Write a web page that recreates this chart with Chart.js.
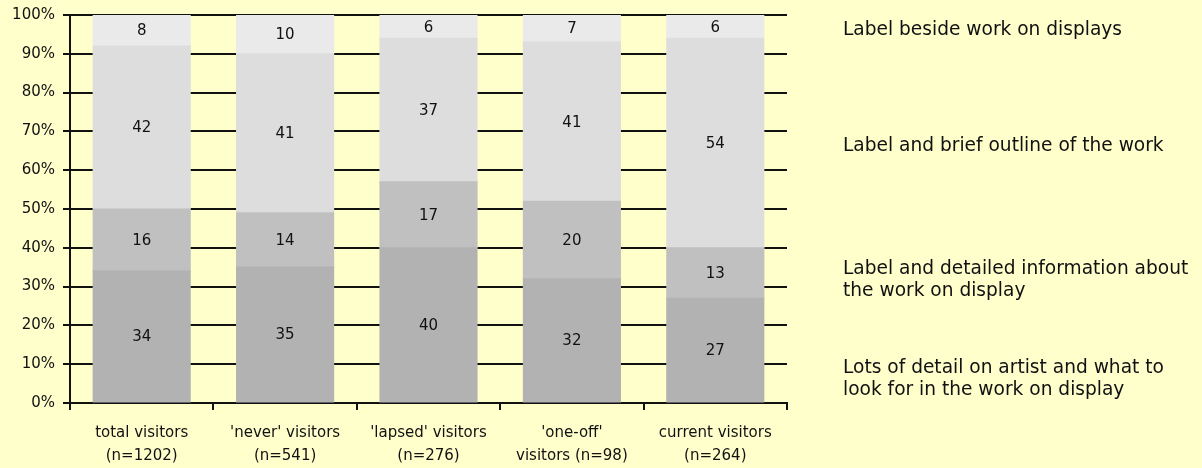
<!DOCTYPE html>
<html>
<head>
<meta charset="utf-8">
<script src="https://cdn.jsdelivr.net/npm/chart.js@4"></script>
<style>
  html, body { margin: 0; padding: 0; background: #FFFFCC; }
  #wrap { width: 1202px; height: 468px; }
</style>
</head>
<body>
<div id="wrap"><canvas id="chart" width="1202" height="468"></canvas></div>
<script>
// visitor groups along the bottom
const groups = [
  ['total visitors', '(n=1202)'],
  ["'never' visitors", '(n=541)'],
  ["'lapsed' visitors", '(n=276)'],
  ["'one-off'", 'visitors (n=98)'],
  ['current visitors', '(n=264)']
];

// % preferring each kind of interpretation, bottom segment first
const lotsOfDetail   = [34, 35, 40, 32, 27];
const detailedInfo   = [16, 14, 17, 20, 13];
const briefOutline   = [42, 41, 37, 41, 54];
const labelOnly      = [8, 10, 6, 7, 6];

const yTicks = [0, 10, 20, 30, 40, 50, 60, 70, 80, 90, 100];

// text down the right hand side, top to bottom
const sideLabels = [
  ['Label beside work on displays'],
  ['Label and brief outline of the work'],
  ['Label and detailed information about', 'the work on display'],
  ['Lots of detail on artist and what to', 'look for in the work on display']
];
const sideLabelY = [30, 146, 280, 379];

const FONT = "'DejaVu Sans', Verdana, sans-serif";

// numbers in the middle of each segment
const segmentValues = {
  id: 'segmentValues',
  afterDatasetsDraw(chart) {
    const ctx = chart.ctx;
    ctx.save();
    ctx.font = '15px ' + FONT;
    ctx.fillStyle = '#111';
    ctx.textAlign = 'center';
    ctx.textBaseline = 'middle';
    chart.data.datasets.forEach((ds, i) => {
      chart.getDatasetMeta(i).data.forEach((bar, j) => {
        const v = ds.data[j];
        ctx.fillText(String(v), bar.x, (bar.y + bar.base) / 2 + 1);
      });
    });
    ctx.restore();
  }
};

const sideText = {
  id: 'sideText',
  afterDraw(chart) {
    const ctx = chart.ctx;
    ctx.save();
    ctx.font = '18.6px ' + FONT;
    ctx.fillStyle = '#111';
    ctx.textAlign = 'left';
    ctx.textBaseline = 'middle';
    sideLabels.forEach((lines, i) => {
      const top = sideLabelY[i] - (lines.length - 1) * 11;
      lines.forEach((t, k) => ctx.fillText(t, 843, top + k * 22));
    });
    ctx.restore();
  }
};

// inflate a little so stacked segments overlap and no seam shows
const ds = (data, color) => ({
  data, backgroundColor: color, borderWidth: 0, inflateAmount: 0.6,
  barPercentage: 0.676, categoryPercentage: 1
});

new Chart(document.getElementById('chart'), {
  type: 'bar',
  data: {
    labels: groups,
    datasets: [
      ds(lotsOfDetail, '#B2B2B2'),
      ds(detailedInfo, '#C0C0C0'),
      ds(briefOutline, '#DDDDDD'),
      ds(labelOnly, '#EAEAEA')
    ]
  },
  options: {
    responsive: false,
    animation: false,
    layout: { padding: { top: 15, right: 415, left: 0, bottom: 0 } },
    plugins: { legend: { display: false }, tooltip: { enabled: false } },
    scales: {
      x: {
        stacked: true,
        grid: { drawOnChartArea: false, offset: true, color: '#111', lineWidth: 2, tickLength: 7 },
        border: { color: '#111', width: 2 },
        ticks: { color: '#111', font: { family: FONT, size: 15, lineHeight: 1.55 }, maxRotation: 0, autoSkip: false, padding: 11 },
        afterFit(s) { s.height = 65; }
      },
      y: {
        stacked: true,
        min: 0, max: 100,
        afterBuildTicks(s) { s.ticks = yTicks.map(v => ({ value: v })); },
        grid: { color: '#111', lineWidth: 2, tickLength: 7 },
        border: { color: '#111', width: 2 },
        ticks: { color: '#111', font: { family: FONT, size: 15, lineHeight: 1 }, padding: 8, callback: v => v + '%' },
        afterFit(s) { s.width = 70; s.paddingTop = 0; }
      }
    }
  },
  plugins: [segmentValues, sideText]
});
</script>
</body>
</html>
